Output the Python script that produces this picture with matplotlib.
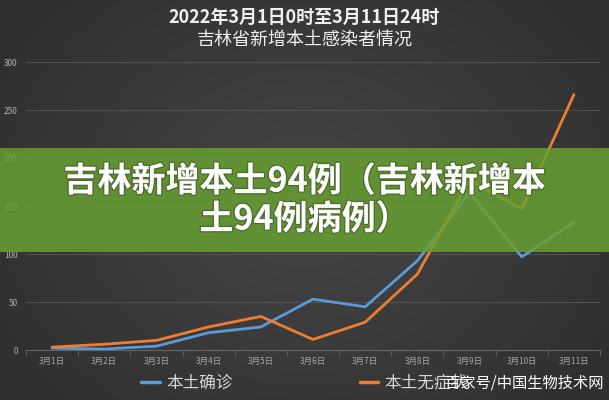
import numpy as np
import matplotlib
matplotlib.use("Agg")
import matplotlib.pyplot as plt
from matplotlib.patches import Rectangle
import matplotlib.patheffects as pe

plt.rcParams['font.family'] = ['Noto Sans CJK SC', 'DejaVu Sans']

dates = ["3月1日", "3月2日", "3月3日", "3月4日", "3月5日", "3月6日",
         "3月7日", "3月8日", "3月9日", "3月10日", "3月11日"]
confirmed = [2, 1, 4, 18, 24, 53, 45, 93, 164, 97, 133]
asymptomatic = [3, 6, 10, 24, 35, 11, 29, 79, 177, 147, 266]
series_names = ["本土确诊", "本土无症状"]
title_lines = ["2022年3月1日0时至3月11日24时", "吉林省新增本土感染者情况"]
banner_lines = ["吉林新增本土94例（吉林新增本", "土94例病例）"]
watermark = "百家号/中国生物技术网"
yticks = [0, 50, 100, 150, 200, 250, 300]

W, H = 609, 400
fig = plt.figure(figsize=(W / 100, H / 100), dpi=100)

# background radial gradient
bg = fig.add_axes([0, 0, 1, 1], zorder=-10)
yy, xx = np.mgrid[0:H, 0:W]
r = np.sqrt(((xx - W * 0.5) / (W * 0.6)) ** 2 + ((yy - H * 0.5) / (H * 0.75)) ** 2)
r = np.clip(r, 0, 1)
val = 0.275 - 0.09 * r
img = np.dstack([val, val, val])
bg.imshow(img, aspect='auto', extent=[0, 1, 0, 1])
bg.axis('off')

ax = fig.add_axes([26 / W, 1 - 350 / H, 574 / W, 288 / H])
ax.set_facecolor('none')
x = np.arange(len(dates))
ax.plot(x, confirmed, color='#5b9bd5', lw=2.0, label=series_names[0], solid_capstyle='round')
ax.plot(x, asymptomatic, color='#ed7d31', lw=2.0, label=series_names[1], solid_capstyle='round')
ax.set_xlim(-0.5, len(dates) - 0.5)
ax.set_ylim(0, 300)
ax.set_yticks(yticks)
ax.set_yticklabels([str(v) for v in yticks], fontsize=6, color='#b0b0b0')
ax.tick_params(axis='y', length=0, pad=6)
ax.set_xticks(x)
ax.set_xticklabels(dates, fontsize=6, color='#a8a8a8')
ax.set_xticks(np.arange(-0.5, len(dates)), minor=True)
ax.tick_params(axis='x', which='major', length=0, pad=5)
ax.tick_params(axis='x', which='minor', length=4, color='#666666')
ax.grid(axis='y', color='#525252', lw=0.8)
ax.set_axisbelow(True)
for s in ['top', 'right', 'left']:
    ax.spines[s].set_visible(False)
ax.spines['bottom'].set_color('#666666')
ax.spines['bottom'].set_linewidth(0.8)

fig.text(0.5, 1 - 17 / H, title_lines[0], ha='center', va='center', fontsize=13,
         color='#f0f0f0', fontweight='bold')
fig.text(0.5, 1 - 40 / H, title_lines[1], ha='center', va='center', fontsize=13,
         color='#f0f0f0')

leg = fig.legend(loc='center', bbox_to_anchor=(0.5, 1 - 383 / H), ncol=2, frameon=False,
                 fontsize=12, handlelength=1.1, handletextpad=0.4, columnspacing=7.6,
                 labelcolor='#d8d8d8')
for line in leg.get_lines():
    line.set_linewidth(2.5)

# green banner overlay
fig.add_artist(Rectangle((0, 1 - 252 / H), 1, 104 / H, transform=fig.transFigure,
                         facecolor=(0.41, 0.63, 0.20), alpha=0.84, edgecolor='none', zorder=5))
shadow = [pe.withStroke(linewidth=2.0, foreground=(0.25, 0.35, 0.15, 0.6))]
fig.text(0.5, 1 - 181 / H, banner_lines[0], ha='center', va='center', fontsize=24.5,
         color='white', fontweight='heavy', zorder=6, path_effects=shadow)
fig.text(0.5, 1 - 219 / H, banner_lines[1], ha='center', va='center', fontsize=24.5,
         color='white', fontweight='heavy', zorder=6, path_effects=shadow)

fig.text(603 / W, 1 - 383 / H, watermark, ha='right', va='center', fontsize=11,
         color='white', zorder=7)

fig.savefig('out.png', dpi=100)
